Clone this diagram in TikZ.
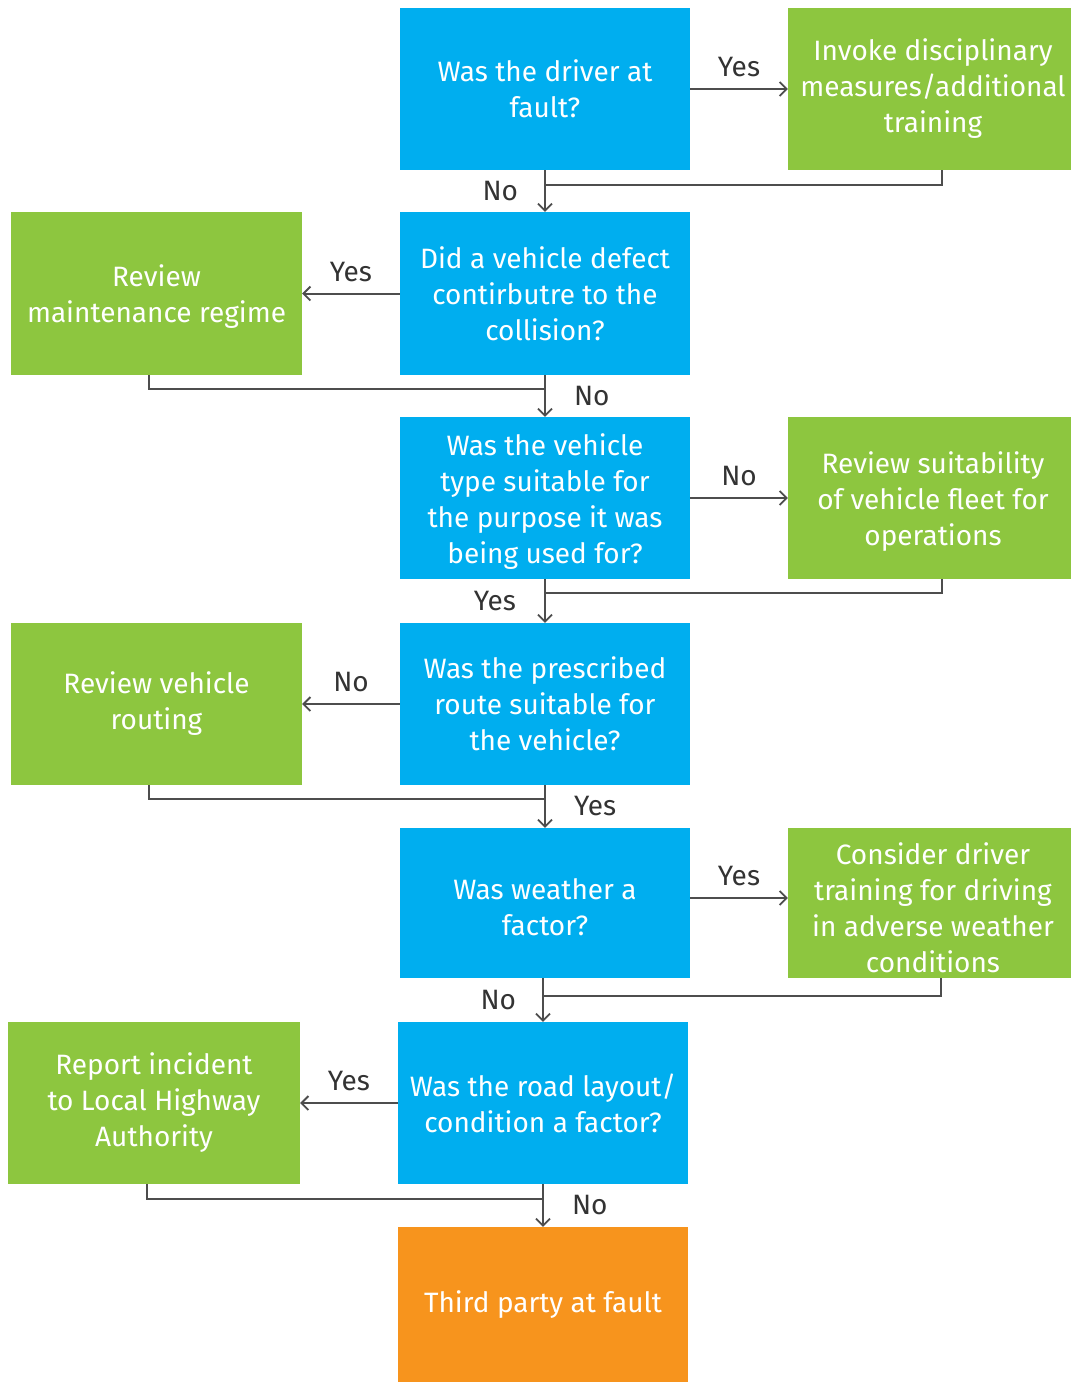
\documentclass[tikz,border=0pt]{standalone}
\usepackage{fontspec}
\setmainfont{Fira Sans}
\usetikzlibrary{arrows.meta}
\definecolor{qblue}{HTML}{00AEEF}
\definecolor{agreen}{HTML}{8DC63F}
\definecolor{endorange}{HTML}{F7941D}
\definecolor{lineg}{HTML}{4D4D4D}
\definecolor{labg}{HTML}{333333}
\newcommand{\lowerby}[1]{\rule{0pt}{#1}}
\tikzset{
  box/.style={rectangle, inner sep=0pt, text=white, align=center,
    font=\fontsize{28}{36}\selectfont},
  qbox/.style={box, fill=qblue},
  abox/.style={box, fill=agreen},
  ebox/.style={box, fill=endorange},
  conn/.style={draw=lineg, line width=2pt, -{Straight Barb[length=7pt,width=14pt,line width=1.8pt]}},
  ret/.style={draw=lineg, line width=2pt},
  lab/.style={text=labg, font=\fontsize{28}{30}\selectfont, inner sep=0pt}
}
\begin{document}
\begin{tikzpicture}[x=1pt,y=-1pt]
\useasboundingbox (0,0) rectangle (1071,1382);
% question boxes
\node[qbox, minimum width=290pt, minimum height=162pt] (b1) at (545,89) {Was the driver at\\fault?};
\node[qbox, minimum width=290pt, minimum height=163pt] (b2) at (545,293.5) {Did a vehicle defect\\contirbutre to the\\collision?};
\node[qbox, minimum width=290pt, minimum height=162pt] (b3) at (545,498) {\lowerby{28pt}Was the vehicle\\type suitable for\\the purpose it was\\being used for?};
\node[qbox, minimum width=290pt, minimum height=162pt] (b4) at (545,704) {Was the prescribed\\route suitable for\\the vehicle?};
\node[qbox, minimum width=290pt, minimum height=150pt] (b5) at (545,903) {\lowerby{30pt}Was weather a\\factor?};
\node[qbox, minimum width=290pt, minimum height=162pt] (b6) at (543,1103) {Was the road layout/\\condition a factor?};
\node[ebox, minimum width=290pt, minimum height=155pt] (b7) at (543,1304.5) {Third party at fault};
% action boxes (right ones extend past the page edge, which clips them)
\node[abox, minimum width=290pt, minimum height=162pt] (g1) at (933,89) {Invoke disciplinary\\measures/additional\\training};
\node[abox, minimum width=291pt, minimum height=163pt] (g2) at (156.5,293.5) {\lowerby{28pt}Review\\maintenance regime};
\node[abox, minimum width=290pt, minimum height=162pt] (g3) at (933,498) {\lowerby{28pt}Review suitability\\of vehicle fleet for\\operations};
\node[abox, minimum width=291pt, minimum height=162pt] (g4) at (156.5,704) {Review vehicle\\routing};
\node[abox, minimum width=290pt, minimum height=150pt] (g5) at (933,903) {\lowerby{32pt}Consider driver\\training for driving\\in adverse weather\\conditions};
\node[abox, minimum width=292pt, minimum height=162pt] (g6) at (154,1103) {Report incident\\to Local Highway\\Authority};
% horizontal connectors
\draw[conn] (b1.east) -- (g1.west) node[lab, midway, above=11pt] (l1) {Yes};
\draw[conn] (b2.west) -- (g2.east) node[lab, midway, above=11pt] (l2) {Yes};
\draw[conn] (b3.east) -- (g3.west) node[lab, midway, above=11pt] (l3) {No};
\draw[conn] (b4.west) -- (g4.east) node[lab, midway, above=11pt] (l4) {No};
\draw[conn] ([yshift=5pt]b5.east) -- ([yshift=5pt]g5.west) node[lab, midway, above=11pt] (l5) {Yes};
\draw[conn] (b6.west) -- (g6.east) node[lab, midway, above=11pt] (l6) {Yes};
% vertical connectors
\draw[conn] (b1.south) -- (b2.north) node[lab, midway, left=26pt] (v1) {No};
\draw[conn] (b2.south) -- (b3.north) node[lab, midway, right=28pt] (v2) {No};
\draw[conn] (b3.south) -- (b4.north) node[lab, midway, left=28pt] (v3) {Yes};
\draw[conn] (b4.south) -- (b5.north) node[lab, midway, right=28pt] (v4) {Yes};
\draw[conn] (b6.north |- b5.south) -- (b6.north) node[lab, midway, left=26pt] (v5) {No};
\draw[conn] (b6.south) -- (b7.north) node[lab, midway, right=28pt] (v6) {No};
% return lines
\coordinate (r1) at (545,185);
\coordinate (r2) at (545,389);
\coordinate (r3) at (545,593);
\coordinate (r4) at (545,799);
\coordinate (r5) at (543,996);
\coordinate (r6) at (543,1199);
\draw[ret] ([xshift=9pt]g1.south) |- (r1);
\draw[ret] ([xshift=-7.5pt]g2.south) |- (r2);
\draw[ret] ([xshift=9pt]g3.south) |- (r3);
\draw[ret] ([xshift=-7.5pt]g4.south) |- (r4);
\draw[ret] ([xshift=8pt]g5.south) |- (r5);
\draw[ret] ([xshift=-7pt]g6.south) |- (r6);
\end{tikzpicture}
\end{document}
